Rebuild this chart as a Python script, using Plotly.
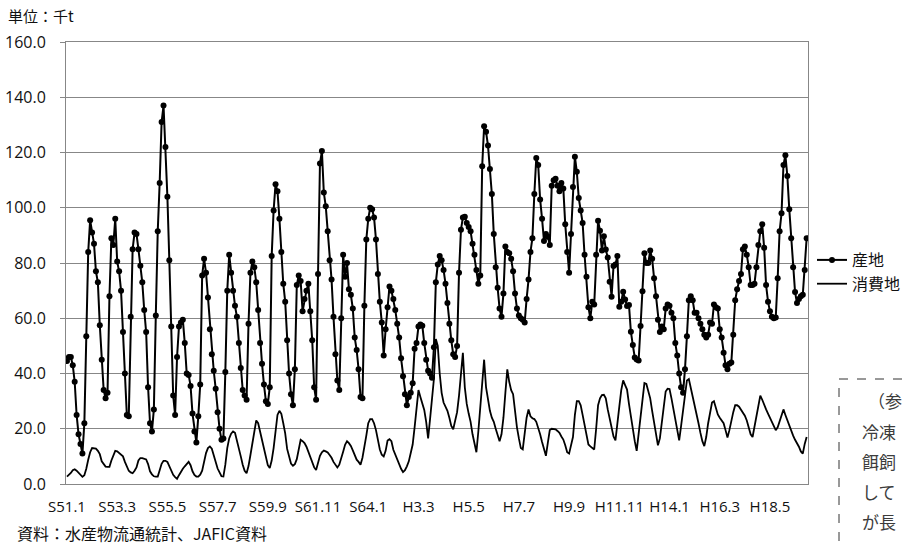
import plotly.graph_objects as go

# Monthly stock, S51.1 (Jan 1976) .. H19.12 (Dec 2007), thousand tonnes
SANCHI = [  # 産地
    44.5, 46, 46, 43, 37, 25, 18, 14.5, 11, 22, 53.5, 84,
    95.5, 91, 87, 77, 73, 57.5, 45, 34, 31, 33, 68, 89,
    86.5, 96, 80.5, 77, 70, 55, 40, 25, 24.5, 60.5, 85, 91,
    90.5, 85, 79, 73, 63, 55, 35, 22, 19, 27, 61, 91.5,
    109, 131, 137, 122, 104, 81, 57, 32, 25, 46, 57, 58.5,
    59.5, 51, 40, 39.5, 35.5, 25.5, 19, 15, 24.5, 36, 75.5, 81.5,
    76.5, 67.5, 56, 47, 41, 34.5, 26, 20, 16, 16.5, 40.5, 70,
    83, 76.5, 70, 64.5, 60.5, 51, 42, 34, 32, 30.5, 58, 76.5,
    80.5, 78.5, 73, 63, 51, 43.5, 36, 30, 29, 35, 82.5, 99,
    108.5, 106, 96, 84, 72.5, 66, 52, 40, 32.5, 28.5, 41.5, 72,
    75.5, 73.5, 62.5, 67, 70, 72.5, 62.5, 52, 35, 30.5, 76, 116,
    120.5, 105.5, 100.5, 91.5, 81, 74, 60.5, 47, 37.5, 34, 60, 83,
    75, 80, 70.5, 68.5, 63.5, 53, 48.5, 41.5, 31.5, 31, 64.5, 88.5,
    96, 100, 99.5, 96.5, 88.5, 76, 66, 58.5, 46.5, 56, 64, 71.5,
    70, 67, 63, 58, 53, 45.5, 39, 32.5, 28.5, 31.5, 33, 36.5,
    49, 51, 57, 57.7, 57.3, 51, 45, 41, 40, 38.5, 49.5, 73,
    79.5, 82.5, 81, 77.5, 72.5, 65.5, 58, 52, 47, 46, 50, 76.5,
    92, 96.5, 96.7, 94.5, 93, 91.5, 87, 83, 77.5, 72.5, 75.5, 115,
    129.5, 127.5, 122.5, 114, 105, 90.5, 78.5, 71, 63.5, 60.5, 69, 86,
    84, 83.5, 81.5, 77, 69, 63.5, 61, 60, 59.5, 58.5, 67, 74,
    84, 89, 105, 118, 115.5, 103, 96, 88, 90.5, 89.5, 86.5, 108,
    110, 110.5, 108, 106, 109, 107, 94, 84, 76.5, 90.5, 107.5, 118.5,
    113, 103.5, 99, 94.5, 83, 75, 64, 60, 66, 65, 83, 95.3,
    91.7, 84.5, 89.7, 84.9, 82, 73.2, 67.8, 78.9, 79.5, 82.5, 64.2, 66,
    69.6, 66.8, 64.4, 64.8, 55.1, 50.3, 45.8, 45.1, 44.7, 57.2, 69.8, 83.5,
    80, 80, 84.5, 81.5, 74.5, 68, 59.5, 55, 57, 56, 63.5, 65,
    64.5, 62, 60, 51, 46.5, 40, 35, 33, 41.5, 53.5, 66.5, 68,
    66.5, 62, 62, 60, 58, 56, 54, 53, 54, 58.5, 58, 65,
    64, 63.5, 56, 53, 47.5, 43, 41.5, 43.5, 44, 54, 66.5, 70.5,
    73.5, 76, 85, 86, 83, 78.5, 72, 72, 72.5, 78.5, 86.5, 91.5,
    94, 85.5, 72, 66, 62.5, 60.5, 60, 60.3, 74.5, 91.5, 98, 115.5,
    119, 111.5, 99.5, 89, 78.5, 69.5, 65.5, 67, 68, 68.5, 77.5, 89,
]

SHOHICHI = [  # 消費地
    2.7, 3.2, 4, 5, 5.3, 4.8, 4.1, 3.2, 2.6, 3.2, 5.5, 8.8,
    11.5, 13, 13, 12.8, 12, 10.8, 8.2, 7, 6.3, 6.2, 6.2, 8.5,
    10.3, 12, 11.8, 11.2, 10.7, 10, 8, 6.5, 4.8, 4.2, 3.9, 4.8,
    6, 8.5, 9.4, 9.4, 9.2, 8.9, 7.2, 4.6, 3.5, 2.8, 2.7, 2.7,
    5, 7.3, 8.4, 8.4, 8, 6.2, 4.8, 3.3, 2.5, 1.9, 3.2, 4.6,
    5.5, 6.4, 7.2, 8, 6.8, 4.6, 3.3, 2.7, 2.7, 3.4, 4.8, 7.8,
    11.2, 13, 13.6, 12.8, 10.5, 7.5, 5.6, 4.2, 2.8, 2.7, 7, 13,
    16.5, 18.2, 19, 18.5, 16, 13, 10, 7, 4.8, 3.9, 6.5, 10.5,
    15, 19.5, 23, 22, 19, 15.5, 12, 8.8, 6.8, 5.8, 8.5, 13,
    18.5, 25, 26.5, 25.4, 22, 18.3, 12.7, 9.8, 7.4, 6.6, 7.2, 9,
    13, 16, 15.5, 14.8, 13.5, 11.5, 9.5, 7.3, 6, 5.1, 7.5, 10.2,
    11.5, 12.1, 11.8, 11.4, 10.5, 9.5, 8, 6.8, 6, 7, 9, 11.7,
    14.2, 15.5, 14.8, 13.8, 12.2, 10.3, 8.8, 8, 7, 9.5, 13, 17.5,
    22, 23.5, 23.5, 22, 19.5, 15.5, 12.5, 10.6, 10, 12, 15.7, 16.2,
    15.5, 12.4, 10.5, 9, 7.3, 5.5, 4.3, 5, 6.4, 8.2, 11.2, 14.3,
    20.5, 28.5, 34, 31.5, 28.8, 26.8, 22.5, 16.5, 23.5, 32, 38, 52.5,
    50, 40, 33, 29.5, 28, 26.5, 24, 21, 19.8, 22.5, 26, 32,
    40, 47.5, 35, 29, 25.5, 22.5, 18, 14, 11.5, 19, 27, 38,
    45, 35, 30.5, 26.5, 24, 22.5, 20, 18, 15.5, 18, 24, 33,
    41.5, 37, 34, 32.5, 26, 20.5, 16.5, 13, 12.5, 19, 24, 27,
    24.5, 23.8, 23.5, 22.5, 20.5, 18, 15.2, 12.5, 10.2, 15, 19.5, 20,
    20, 19.8, 19.2, 18.5, 17.2, 16.1, 14, 11.5, 11, 14, 17, 25,
    30, 30, 28.5, 25, 21.5, 17.5, 14.3, 13.6, 13, 12.5, 20, 28.5,
    31, 32.2, 32.3, 31, 27, 23.5, 19.5, 17.2, 15.8, 21, 28, 34,
    37.5, 35.8, 34.2, 29, 24, 19.5, 15.5, 12, 18.5, 26, 31, 36.5,
    36.2, 34, 31, 26.5, 22, 18, 14, 16.5, 22.5, 28.5, 33.5, 34.5,
    34.4, 31, 27, 23, 19.5, 15.8, 21, 27, 33, 37.5, 38, 35,
    31.5, 28.5, 25.5, 22, 18.5, 15.5, 13.7, 17, 22, 26, 29.5, 30,
    27.5, 25.2, 24, 23, 22, 19.5, 16.8, 19.5, 23.5, 26, 28.5, 28.5,
    28, 27, 25.8, 24.7, 23, 20.5, 18, 17, 21, 25.5, 29.5, 32,
    30.5, 28.5, 27, 25.5, 24, 22.5, 21, 19.5, 20.5, 23, 25, 27,
    25, 23, 21, 19.5, 17.5, 16, 14.8, 13.5, 11.8, 11, 14.5, 17,
]

TICK_LABELS = ["S51.1", "S53.3", "S55.5", "S57.7", "S59.9", "S61.11", "S64.1",
               "H3.3", "H5.5", "H7.7", "H9.9", "H11.11", "H14.1", "H16.3", "H18.5"]
TICK_STEP = 26  # months between labels

NOTE_LINES = ["（参", "冷凍", "餌飼", "して", "が長"]

W, H = 906, 547
L, R, T, B = 66, 808, 42, 484  # plot area in pixels


def px_x(px):
    return (px - L) / (R - L)


def px_y(py):
    return (B - py) / (B - T)


months = list(range(len(SANCHI)))
tickvals = [i * TICK_STEP for i in range(len(TICK_LABELS))]

GRID = "#878787"
JP = "Noto Sans CJK JP"
LAT = "Open Sans, Noto Sans CJK JP"
INK = "#111111"

fig = go.Figure()
fig.add_trace(go.Scatter(
    x=months, y=SANCHI, name="産地", mode="lines+markers",
    line=dict(color="black", width=2),
    marker=dict(size=6, color="black"),
))
fig.add_trace(go.Scatter(
    x=months, y=SHOHICHI, name="消費地", mode="lines",
    line=dict(color="black", width=1.8),
))

fig.update_layout(
    width=W, height=H,
    # fixed plot area: the outside legend must not shrink it
    margin=dict(l=L, r=W - R, t=T, b=H - B, pad=0, autoexpand=False),
    paper_bgcolor="white", plot_bgcolor="white",
    font=dict(family=JP, color=INK, size=15),
    showlegend=True,
    legend=dict(
        x=px_x(812), y=px_y(243), xanchor="left", yanchor="top",
        font=dict(family=JP, size=16, color=INK),
        bgcolor="rgba(0,0,0,0)", tracegroupgap=0, itemwidth=30,
    ),
    xaxis=dict(
        range=[-0.5, len(SANCHI) - 0.3],
        tickmode="array", tickvals=tickvals, ticktext=TICK_LABELS,
        showgrid=False, zeroline=False, automargin=False,
        showline=True, linecolor=GRID, linewidth=1, mirror=True,
        ticks="", ticklabelstandoff=9,
        tickfont=dict(family=LAT, size=15, color=INK),
    ),
    yaxis=dict(
        range=[0, 160], dtick=20, tickformat=".1f", automargin=False,
        showgrid=True, gridcolor=GRID, gridwidth=1, zeroline=False,
        showline=True, linecolor=GRID, linewidth=1, mirror=True,
        ticks="outside", ticklen=5, tickcolor=GRID, ticklabelstandoff=11,
        tickfont=dict(family=LAT, size=16, color=INK),
    ),
)

annotations = [
    dict(text="単位：千t", x=px_x(6), y=px_y(16), xanchor="left", yanchor="middle",
         font=dict(family=JP, size=15, color=INK)),
    dict(text="資料：水産物流通統計、JAFIC資料", x=px_x(15), y=px_y(533),
         xanchor="left", yanchor="middle",
         font=dict(family=JP, size=16, color=INK)),
]
note_y = [400, 431, 461, 491, 521]
for i, (line, yy) in enumerate(zip(NOTE_LINES, note_y)):
    annotations.append(dict(
        text=line, x=px_x(866 if i == 0 else 860), y=px_y(yy),
        xanchor="left", yanchor="middle",
        font=dict(family=JP, size=17, color="#3c3c3c"),
    ))
for a in annotations:
    a.update(xref="paper", yref="paper", showarrow=False)
fig.update_layout(annotations=annotations)

fig.add_shape(
    type="rect", xref="paper", yref="paper",
    x0=px_x(839), x1=px_x(960), y0=px_y(379), y1=px_y(600),
    line=dict(color="#333333", width=1, dash="dash"),
    fillcolor="rgba(0,0,0,0)",
)

fig.write_html("out.html")
